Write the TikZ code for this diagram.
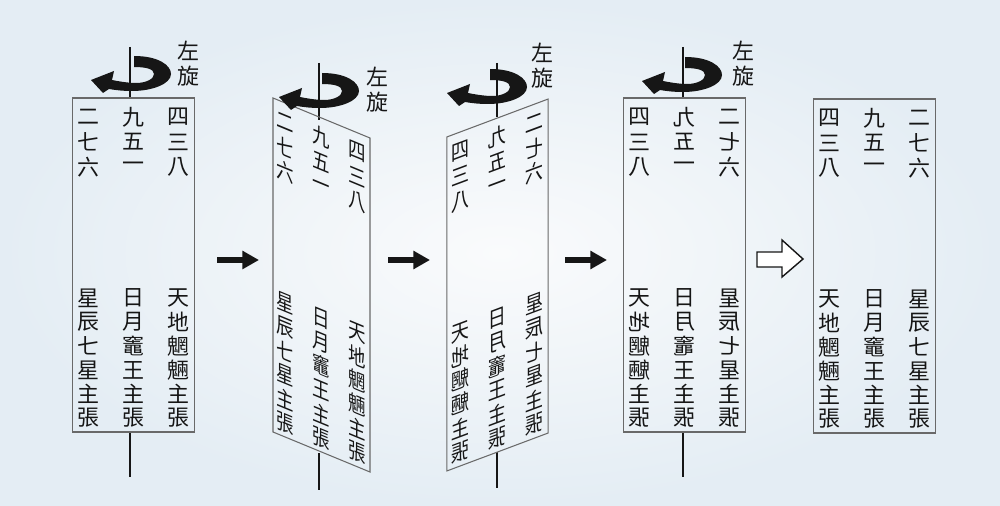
\documentclass[tikz,border=0pt]{standalone}
\usepackage{fontspec}
\newfontfamily\tcfont{Noto Sans CJK TC}
\usetikzlibrary{arrows.meta}

\definecolor{inkblack}{RGB}{22,22,22}
\definecolor{edgegray}{RGB}{105,105,105}
\definecolor{bgcenter}{RGB}{250,251,252}
\definecolor{bgouter}{RGB}{228,237,244}

% one face of the paper: box top centre at (0,0), y grows downward
\newcommand{\paperface}[1]{%
  \draw[paperedge] (-61,0) rectangle (61,334);
  \foreach \ch [count=\i from 0] in {二,七,六}
    \node[glyph] (#1ua\i) at (-45,19+25*\i) {\ch};
  \foreach \ch [count=\i from 0] in {九,五,一}
    \node[glyph] (#1ub\i) at (0,19+25*\i) {\ch};
  \foreach \ch [count=\i from 0] in {四,三,八}
    \node[glyph] (#1uc\i) at (45,19+25*\i) {\ch};
  \foreach \ch [count=\i from 0] in {星,辰,七,星,主,張}
    \node[glyph] (#1la\i) at (-45,200+24*\i) {\ch};
  \foreach \ch [count=\i from 0] in {日,月,竈,王,主,張}
    \node[glyph] (#1lb\i) at (0,200+24*\i) {\ch};
  \foreach \ch [count=\i from 0] in {天,地,魍,魎,主,張}
    \node[glyph] (#1lc\i) at (45,200+24*\i) {\ch};
}

\begin{document}
\begin{tikzpicture}[x=0.02cm, y=-0.02cm,
    glyph/.style={font=\tcfont\fontsize{12.5}{13}\selectfont, inner sep=0pt, text=inkblack},
    turnlabel/.style={font=\tcfont\fontsize{12.5}{14.2}\selectfont, inner sep=0pt,
      align=center, text=inkblack},
    paperedge/.style={draw=edgegray, line width=0.6pt},
    spindle/.style={draw=inkblack, line width=0.9pt},
    steparrow/.style={-{Triangle[length=9.5pt,width=10pt]}, line width=3.4pt, draw=inkblack},
    hollowarrow/.style={draw=inkblack, fill=white, line width=0.8pt, line join=miter},
    rotarrow/.pic={
      \fill[inkblack] (4,-18) .. controls (28,-18) and (41,-9) .. (41,0)
        .. controls (41,10) and (22,17) .. (2,17)
        .. controls (-8,17) and (-15,16) .. (-21,15)
        -- (-27,19) -- (-39,6) -- (-16,-3) -- (-18,6)
        .. controls (-8,8) and (0,9) .. (6,9)
        .. controls (16,9) and (24,5) .. (24,0)
        .. controls (24,-5) and (16,-7) .. (4,-7) -- cycle;
    }]
  \shade[inner color=bgcenter, outer color=bgouter] (0,0) rectangle (1000,506);
  \useasboundingbox (0,0) rectangle (1000,506);

  % spindles
  \draw[spindle] (130,47) -- (130,98);
  \draw[spindle] (130,432) -- (130,477);
  \draw[spindle] (319,63) -- (319,120);
  \draw[spindle] (319,453) -- (319,490);
  \draw[spindle] (497,63) -- (497,117);
  \draw[spindle] (497,452) -- (497,488);
  \draw[spindle] (683,47) -- (683,98);
  \draw[spindle] (683,432) -- (683,477);

  % the five views of the paper
  \begin{scope}[shift={(133.5,98)}]
    \paperface{p1}
  \end{scope}
  \begin{scope}[shift={(321.5,118)}, cm={0.795,-0.328,0,1,(0,0)}, transform shape]
    \paperface{p2}
  \end{scope}
  \begin{scope}[shift={(497.5,118)}, cm={-0.83,-0.311,0,1,(0,0)}, transform shape]
    \paperface{p3}
  \end{scope}
  \begin{scope}[shift={(684.5,98)}, xscale=-1, transform shape]
    \paperface{p4}
  \end{scope}
  \begin{scope}[shift={(874.5,99)}, xscale=-1]
    \paperface{p5}
  \end{scope}

  % turning arrows
  \pic (turn1) at (130,74) {rotarrow};
  \pic (turn2) at (318,91) {rotarrow};
  \pic (turn3) at (486,87) {rotarrow};
  \pic (turn4) at (681,75) {rotarrow};
  \node[turnlabel] (lbl1) at (188,64) {左\\旋};
  \node[turnlabel] (lbl2) at (377,90) {左\\旋};
  \node[turnlabel] (lbl3) at (542,66) {左\\旋};
  \node[turnlabel] (lbl4) at (743,64) {左\\旋};

  % steps
  \coordinate (s1tail) at (217,260);
  \coordinate (s1tip) at (259,260);
  \coordinate (s2tail) at (388,260);
  \coordinate (s2tip) at (430,260);
  \coordinate (s3tail) at (565,260);
  \coordinate (s3tip) at (607,260);
  \draw[steparrow] (s1tail) -- (s1tip);
  \draw[steparrow] (s2tail) -- (s2tip);
  \draw[steparrow] (s3tail) -- (s3tip);
  \draw[hollowarrow] (757,252) -- (782,252) -- (782,240) -- (803,259)
    -- (782,277) -- (782,267) -- (757,267) -- cycle;
\end{tikzpicture}
\end{document}
